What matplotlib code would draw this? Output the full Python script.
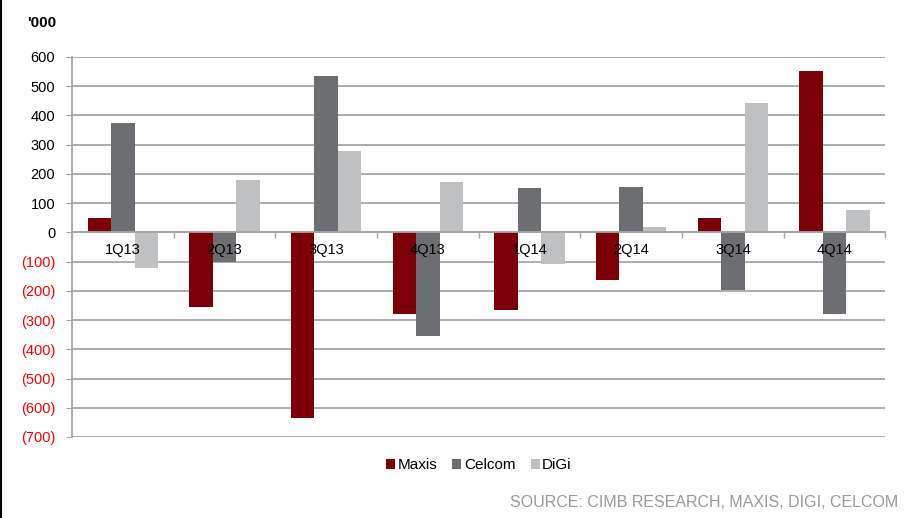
import matplotlib

matplotlib.use("Agg")
import matplotlib.pyplot as plt
import numpy as np
from matplotlib.lines import Line2D
from matplotlib.ticker import FixedLocator, FuncFormatter
from matplotlib.transforms import offset_copy

plt.rcParams["font.family"] = ["Liberation Sans", "DejaVu Sans"]

quarters = ["1Q13", "2Q13", "3Q13", "4Q13", "1Q14", "2Q14", "3Q14", "4Q14"]
maxis = [50, -255, -635, -280, -265, -163, 50, 553]
celcom = [375, -100, 535, -355, 152, 154, -198, -280]
digi = [-123, 178, 280, 171, -109, 20, 444, 78]

series = [("Maxis", maxis, "#7B0008"), ("Celcom", celcom, "#6D6E71"), ("DiGi", digi, "#BFC0C2")]

fig = plt.figure(figsize=(9.17, 5.18), dpi=100)
ax = fig.add_axes([0.0785, 0.1564, 0.887, 0.7336])

x = np.arange(len(quarters))
w = 0.23
for i, (name, vals, col) in enumerate(series):
    ax.bar(x + (i - 1) * w, vals, width=w, color=col, label=name, zorder=3)

ax.set_xlim(-0.5, len(quarters) - 0.5)
ax.set_ylim(-700, 600)
ax.yaxis.set_major_locator(FixedLocator(range(-700, 601, 100)))
ax.yaxis.set_major_formatter(FuncFormatter(lambda v, p: f"({abs(int(v))})" if v < 0 else f"{int(v)}"))
ax.grid(axis="y", color="#A6A6A6", linewidth=1.3, zorder=0)
ax.tick_params(axis="y", length=4, color="#A6A6A6", labelsize=10.5, pad=8)
for lbl, v in zip(ax.get_yticklabels(), range(-700, 601, 100)):
    lbl.set_color("#FF0000" if v < 0 else "black")

# category axis sits on zero line
ax.spines["bottom"].set_position(("data", 0))
ax.spines["bottom"].set_color("#A6A6A6")
ax.spines["bottom"].set_linewidth(1.3)
ax.spines["bottom"].set_zorder(4)
ax.spines["left"].set_color("#A6A6A6")
ax.spines["left"].set_linewidth(1.3)
ax.spines["top"].set_visible(False)
ax.spines["right"].set_visible(False)
ax.set_xticks(x)
ax.set_xticklabels([])
ax.tick_params(axis="x", which="major", length=0)
ax.set_xticks(np.arange(-0.5, len(quarters)), minor=True)
ax.tick_params(axis="x", which="minor", length=4, color="#A6A6A6", width=1)

lbl_tr = offset_copy(ax.transData, fig=fig, y=-8, units="points")
for xi, q in zip(x, quarters):
    ax.text(xi, 0, q, transform=lbl_tr, ha="center", va="top", fontsize=10.5, zorder=6)

fig.text(0.03, 0.955, "'000", fontsize=11, fontweight="bold", va="center", ha="left")

ax.legend(loc="upper center", bbox_to_anchor=(0.5, -0.02), ncol=3, frameon=False,
          fontsize=11, handlelength=0.6, handleheight=0.6, handletextpad=0.15, columnspacing=1.0)

fig.text(0.98, 0.015, "SOURCE: CIMB RESEARCH, MAXIS, DIGI, CELCOM", fontsize=11.5,
         color="#9A9A9A", ha="right", va="bottom")

fig.add_artist(Line2D([0.001, 0.001], [0, 1], color="black", linewidth=1.5, transform=fig.transFigure))

fig.savefig("out.png", dpi=100)
